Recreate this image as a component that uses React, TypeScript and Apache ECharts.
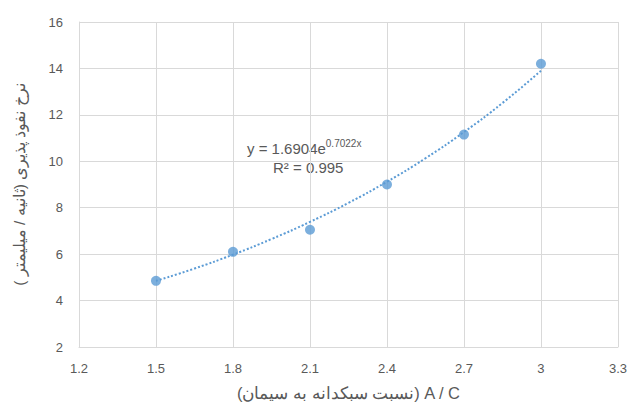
import React, { useEffect, useRef } from "react";
import * as echarts from "echarts";

const xValues = [1.5, 1.8, 2.1, 2.4, 2.7, 3.0];
const yValues = [4.85, 6.1, 7.05, 9.0, 11.15, 14.2];
// trendline (exponential fit shown in chart)
const trendX = [1.5, 1.65, 1.8, 1.95, 2.1, 2.25, 2.4, 2.55, 2.7, 2.85, 3.0];
const trendY = [4.85, 5.38, 5.98, 6.65, 7.39, 8.21, 9.12, 10.13, 11.26, 12.51, 13.9];
const equationText = "y = 1.6904e";
const equationExp = "0.7022x";
const r2Text = "R² = 0.995";
const xTitle = "(نسبت سبکدانه به سیمان) A / C";
const yTitle = "نرخ نفوذ پذیری (ثانیه / میلیمتر )\u200F";

const gray = "#595959";
const blue = "#5b9bd5";
const font = "'Liberation Sans', Arial, sans-serif";

export default function App() {
  const ref = useRef<HTMLDivElement>(null);
  useEffect(() => {
    if (!ref.current) return;
    const chart = echarts.init(ref.current, null, { renderer: "svg" });
    chart.setOption({
      animation: false,
      backgroundColor: "#fff",
      textStyle: { fontFamily: font },
      grid: { left: 79, right: 12, top: 22, bottom: 60, containLabel: false },
      xAxis: {
        type: "value",
        min: 1.2,
        max: 3.3,
        interval: 0.3,
        axisLine: { show: true, lineStyle: { color: "#d9d9d9" } },
        axisTick: { show: false },
        splitLine: { show: true, lineStyle: { color: "#d9d9d9", width: 1 } },
        axisLabel: {
          color: gray,
          fontSize: 13,
          margin: 15,
          fontFamily: font,
          formatter: (v: number) => String(Math.round(v * 10) / 10),
        },
        name: xTitle,
        nameLocation: "middle",
        nameGap: 37,
        nameTextStyle: { color: gray, fontSize: 16.5, fontFamily: font },
      },
      yAxis: {
        type: "value",
        min: 2,
        max: 16,
        interval: 2,
        axisLine: { show: true, lineStyle: { color: "#d9d9d9" } },
        axisTick: { show: false },
        splitLine: { show: true, lineStyle: { color: "#d9d9d9", width: 1 } },
        axisLabel: { color: gray, fontSize: 13, margin: 16, fontFamily: font },
        name: yTitle,
        nameLocation: "middle",
        nameRotate: 90,
        nameGap: 52,
        nameTextStyle: { color: gray, fontSize: 15.5, fontFamily: font },
      },
      graphic: [
        {
          type: "text",
          left: 247,
          top: 138,
          style: {
            text: "{a|" + equationText + "}{b|" + equationExp + "}",
            rich: {
              a: { fontSize: 15, fill: gray, fontFamily: font, verticalAlign: "bottom", lineHeight: 18 },
              b: { fontSize: 10, fill: gray, fontFamily: font, verticalAlign: "top", lineHeight: 18, padding: [0, 0, 7, 0] },
            },
          },
        },
        {
          type: "text",
          left: 273,
          top: 160,
          style: { text: r2Text, fontSize: 15, fill: gray, fontFamily: font },
        },
      ],
      series: [
        {
          type: "line",
          data: trendX.map((x, i) => [x, trendY[i]]),
          smooth: true,
          showSymbol: false,
          symbol: "none",
          lineStyle: { color: blue, width: 2, type: [2, 2] },
          z: 2,
        },
        {
          type: "scatter",
          data: xValues.map((x, i) => [x, yValues[i]]),
          symbolSize: 10,
          itemStyle: { color: blue },
          z: 3,
        },
      ],
    });
    return () => chart.dispose();
  }, []);
  return <div ref={ref} style={{ width: 630, height: 407, position: "absolute", left: 0, top: 0 }} />;
}
